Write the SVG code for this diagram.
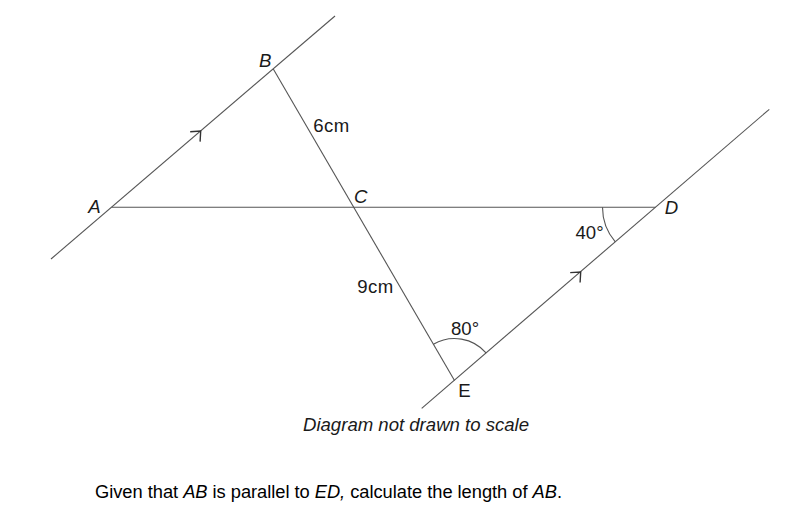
<svg xmlns="http://www.w3.org/2000/svg" xmlns:xlink="http://www.w3.org/1999/xlink" width="800" height="521" viewBox="0 0 800 521">
  <style>
    .ln { stroke: #555; stroke-width: 1.1; fill: none; }
    .lbl { font-family: "Liberation Sans", Arial, sans-serif; font-size: 18.6px; fill: #1a1a1a; }
    .it { font-style: italic; }
    .cap { font-family: "Liberation Sans", Arial, sans-serif; font-size: 18.3px; fill: #000; }
  </style>
  <defs>
    <path id="chev" d="M -10.5 0.6 L 0 0 L -0.6 10.5" stroke="#333" stroke-width="1.4" fill="none"/>
  </defs>
  <rect width="800" height="521" fill="#fff"/>

  <g id="connectors">
    <line id="line-AB" class="ln" x1="51" y1="259" x2="335" y2="16"/>
    <line id="line-ED" class="ln" x1="421.7" y1="408.3" x2="769.3" y2="109.3"/>
    <line id="line-AD" class="ln" x1="111.7" y1="207.3" x2="655.5" y2="207.3"/>
    <line id="line-BE" class="ln" x1="273.3" y1="69" x2="454.5" y2="380.5"/>
    <use xlink:href="#chev" href="#chev" x="200.7" y="131.1"/>
    <use xlink:href="#chev" href="#chev" x="580.7" y="272"/>
    <path id="arc-E" class="ln" d="M 433.4 344.2 A 42 42 0 0 1 486.3 353.1"/>
    <path id="arc-D" class="ln" d="M 602.5 207.3 A 53 53 0 0 0 615.3 241.9"/>
  </g>

  <g id="node-A"><text class="lbl it" x="88.3" y="213.3">A</text></g>
  <g id="node-B"><text class="lbl it" x="259" y="66.7">B</text></g>
  <g id="node-C"><text class="lbl it" x="354" y="203.3">C</text></g>
  <g id="node-D"><text class="lbl it" x="664.8" y="214">D</text></g>
  <g id="node-E"><text class="lbl" x="458.3" y="396.7">E</text></g>

  <g id="labels">
    <text class="lbl" x="313.3" y="131.8" textLength="36" lengthAdjust="spacing">6cm</text>
    <text class="lbl" x="357.3" y="293.3" textLength="36" lengthAdjust="spacing">9cm</text>
    <text class="lbl" x="451" y="335">80°</text>
    <text class="lbl" x="575.5" y="239.3">40°</text>
    <text class="lbl it" x="303" y="430.8" textLength="226" lengthAdjust="spacing">Diagram not drawn to scale</text>
  </g>

  <g id="question">
    <text class="cap" x="95" y="497.5" textLength="467" lengthAdjust="spacing">Given that <tspan font-style="italic">AB</tspan> is parallel to <tspan font-style="italic">ED,</tspan> calculate the length of <tspan font-style="italic">AB</tspan>.</text>
  </g>
</svg>
